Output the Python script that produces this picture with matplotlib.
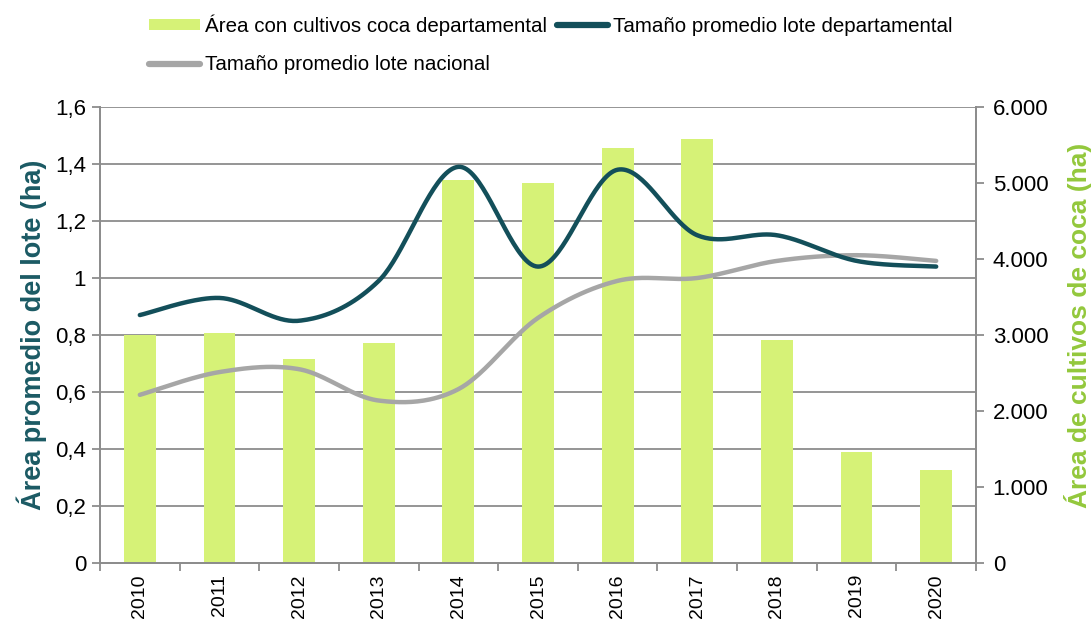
import numpy as np
import matplotlib
matplotlib.use("Agg")
import matplotlib.pyplot as plt
from matplotlib.ticker import FuncFormatter, MultipleLocator, FixedLocator
from matplotlib.patches import Patch
from matplotlib.lines import Line2D

plt.rcParams['font.family'] = ['Liberation Sans', 'DejaVu Sans']

years = ["2010", "2011", "2012", "2013", "2014", "2015", "2016", "2017", "2018", "2019", "2020"]
area_coca = [3000, 3030, 2690, 2890, 5040, 5000, 5460, 5575, 2940, 1460, 1225]
lote_departamental = [0.87, 0.93, 0.85, 0.99, 1.39, 1.04, 1.38, 1.15, 1.15, 1.06, 1.04]
lote_nacional = [0.59, 0.67, 0.68, 0.57, 0.61, 0.86, 0.99, 1.00, 1.06, 1.08, 1.06]

BAR_COLOR = "#d6f277"
DARK = "#134f5a"
GREY = "#a6a6a6"
AXIS_GREY = "#8c8c8c"
LEFT_LABEL = "#1b5a64"
RIGHT_LABEL = "#93c83c"


def smooth(xs, ys, n=40):
    """Catmull-Rom style smoothing through every point (spreadsheet 'smoothed line')."""
    xs = np.asarray(xs, float)
    ys = np.asarray(ys, float)
    px = np.concatenate([[xs[0]], xs, [xs[-1]]])
    py = np.concatenate([[ys[0]], ys, [ys[-1]]])
    out_x, out_y = [], []
    t = np.linspace(0, 1, n)
    for i in range(1, len(px) - 2):
        p0 = np.array([px[i], py[i]])
        p3 = np.array([px[i + 1], py[i + 1]])
        c1 = p0 + (np.array([px[i + 1], py[i + 1]]) - np.array([px[i - 1], py[i - 1]])) / 6
        c2 = p3 - (np.array([px[i + 2], py[i + 2]]) - np.array([px[i], py[i]])) / 6
        b = ((1 - t) ** 3)[:, None] * p0 + (3 * (1 - t) ** 2 * t)[:, None] * c1 \
            + (3 * (1 - t) * t ** 2)[:, None] * c2 + (t ** 3)[:, None] * p3
        out_x.extend(b[:, 0])
        out_y.extend(b[:, 1])
    return np.array(out_x), np.array(out_y)


fig = plt.figure(figsize=(10.91, 6.23), dpi=100)
ax = fig.add_axes([100 / 1091, 60 / 623, 876 / 1091, 456 / 623])
ax2 = ax.twinx()

x = np.arange(len(years))

# Bars on the secondary (right) axis
ax2.bar(x, area_coca, width=0.4, color=BAR_COLOR, edgecolor="none", zorder=2)
ax2.set_ylim(0, 6000)
ax2.yaxis.set_major_locator(MultipleLocator(1000))
ax2.yaxis.set_major_formatter(FuncFormatter(lambda v, p: f"{int(v):,}".replace(",", ".")))

# Primary axis: grid + lines drawn on top of bars
ax.set_zorder(ax2.get_zorder() + 1)
ax.patch.set_visible(False)
ax.set_ylim(0, 1.6)
ax.set_xlim(-0.5, len(years) - 0.5)
ax.yaxis.set_major_locator(MultipleLocator(0.2))
ax.yaxis.set_major_formatter(FuncFormatter(
    lambda v, p: ("%g" % round(v, 1)).replace(".", ",")))
for yv in np.arange(0.2, 1.61, 0.2):
    ax2.axhline(yv * 6000 / 1.6, color=AXIS_GREY, lw=1.3, zorder=1)

sx, sy = smooth(x, lote_nacional)
ax.plot(sx, sy, color=GREY, lw=3.2, solid_capstyle="round", zorder=3)
sx, sy = smooth(x, lote_departamental)
ax.plot(sx, sy, color=DARK, lw=3.2, solid_capstyle="round", zorder=4)

# Category ticks between bars, labels at bar centres
ax.xaxis.set_major_locator(FixedLocator(np.arange(-0.5, len(years), 1.0)))
ax.xaxis.set_major_formatter(FuncFormatter(lambda v, p: ""))
ax.xaxis.set_minor_locator(FixedLocator(x))
ax.set_xticklabels(years, minor=True, rotation=90, fontsize=14)
ax.tick_params(axis="x", which="minor", length=0, pad=8)
ax.tick_params(axis="x", which="major", length=6, color=AXIS_GREY, width=1.3)
ax.tick_params(axis="y", length=6, color=AXIS_GREY, width=1.3, labelsize=16, pad=4)
ax2.tick_params(axis="y", length=6, color=AXIS_GREY, width=1.3, labelsize=16, pad=6)

for a in (ax, ax2):
    a.spines["top"].set_visible(False)
    for s in ("left", "right", "bottom"):
        a.spines[s].set_color(AXIS_GREY)
        a.spines[s].set_linewidth(1.3)

ax.set_ylabel("Área promedio del lote (ha)", fontsize=19.5, fontweight="bold",
              color=LEFT_LABEL, labelpad=6)
ax2.set_ylabel("Área de cultivos de coca (ha)", fontsize=19, fontweight="bold",
               color=RIGHT_LABEL)
ax2.yaxis.set_label_coords(1.101, 0.522)

handles = [
    Patch(facecolor=BAR_COLOR, edgecolor="none"),
    Line2D([], [], color=GREY, lw=4.5, solid_capstyle="round"),
    Line2D([], [], color=DARK, lw=4.5, solid_capstyle="round"),
]
labels = ["Área con cultivos coca departamental", "Tamaño promedio lote nacional",
          "Tamaño promedio lote departamental"]
fig.legend(handles, labels, ncol=2, loc="upper left", bbox_to_anchor=(149 / 1091, 1 - 14 / 623),
           frameon=False, fontsize=14.75, handlelength=2.5, handleheight=0.45,
           handletextpad=0.25, columnspacing=0.45, labelspacing=0.96, borderaxespad=0,
           borderpad=0)

fig.savefig("out.png", dpi=100)
